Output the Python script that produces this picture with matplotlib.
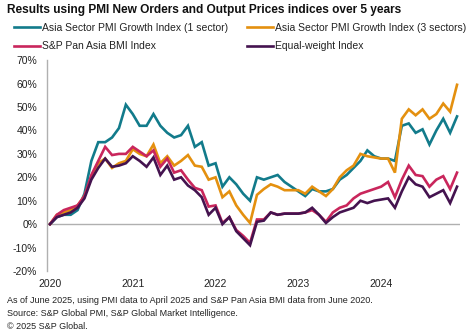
import matplotlib
matplotlib.use("Agg")
import matplotlib.pyplot as plt
from matplotlib.ticker import FuncFormatter

plt.rcParams['font.family'] = ['Liberation Sans', 'DejaVu Sans']

year_labels = ["2020", "2021", "2022", "2023", "2024"]

teal_1sector = [0, 3, 4, 4, 6, 13, 27, 35, 35, 37,
                41, 51, 47, 42, 42, 47, 42, 39, 37, 38,
                42, 33, 35, 25, 26, 16, 20, 17, 13, 10,
                20, 19, 20, 21, 18, 16, 14, 12, 15, 14,
                14, 15, 19, 21, 24, 27, 31.5, 29, 28, 28,
                27, 42, 43, 39, 40.5, 34, 40, 45, 39, 46]
orange_3sectors = [0, 4, 5, 6, 8, 12, 20, 26, 28, 24,
                   26, 27, 32, 30, 29, 34, 26, 29, 25, 27,
                   29.5, 25, 24.5, 19, 20, 11.5, 14, 8, 4, 0.5,
                   12.5, 15, 17, 16, 14.5, 14.5, 14.5, 13, 16, 14,
                   12, 15, 20, 23, 25, 30, 29, 28.5, 28, 28,
                   22, 45, 49, 46.5, 49, 45, 47, 51.5, 48, 59.5]
pink_bmi = [0, 4, 6, 7, 8, 12, 21, 27, 33, 29.5,
            30, 30, 33, 31, 29, 31.5, 24.5, 28, 22, 23,
            19, 15.5, 14.5, 7.5, 8, 0.5, 3, -2.5, -5, -8,
            2, 2, 5, 4, 4.5, 4.5, 4.5, 5, 6, 4,
            1, 5, 7, 8, 11, 13, 14, 15, 16, 18,
            11.5, 19, 25, 21, 20.5, 16, 19, 20.5, 15, 22]
purple_equal = [0, 3, 4, 5, 7, 11, 19, 24, 28, 24.5,
                25, 26, 29, 27, 24.5, 28.5, 21, 25, 19, 20,
                16.5, 14.5, 11.5, 4, 7, 0, 3, -3, -6, -9,
                1, 1.5, 5, 4, 4.5, 4.5, 4.5, 5, 7, 4,
                0.5, 3, 5, 6, 7, 10, 9, 10, 10.5, 11,
                7, 14, 20, 17, 16, 11.5, 13, 14.5, 9, 16]

series = [
    ("Asia Sector PMI Growth Index (1 sector)", teal_1sector, '#127b8b'),
    ("Asia Sector PMI Growth Index (3 sectors)", orange_3sectors, '#e4900f'),
    ("S&P Pan Asia BMI Index", pink_bmi, '#c9265c'),
    ("Equal-weight Index", purple_equal, '#44134f'),
]

W, H = 472, 333
fig = plt.figure(figsize=(W / 100, H / 100), dpi=100)
ax = fig.add_axes([47 / W, 1 - 271 / H, (460 - 47) / W, (271 - 60.2) / H])

handles = []
for name, vals, col in series:
    ln, = ax.plot(range(len(vals)), vals, color=col, lw=1.9, label=name,
                  solid_joinstyle='miter')
    handles.append(ln)

ax.set_xlim(-0.43, 59.43)
ax.set_ylim(-20, 70)
ax.set_yticks(range(-20, 71, 10))
ax.yaxis.set_major_formatter(FuncFormatter(lambda v, p: f"{int(v)}%"))
ax.set_xticks([0, 12, 24, 36, 48])
ax.set_xticklabels(year_labels)
ax.axhline(0, color='#b0b0b0', lw=1.0, zorder=0)
for s in ['top', 'right', 'bottom']:
    ax.spines[s].set_visible(False)
ax.spines['left'].set_color('#b0b0b0')
ax.spines['left'].set_linewidth(1.0)
ax.tick_params(axis='y', length=0, pad=7, labelsize=7.5, labelcolor='#222222')
ax.tick_params(axis='x', length=0, pad=6, labelsize=7.5, labelcolor='#222222')

fig.text(7 / W, 1 - 9.5 / H, "Results using PMI New Orders and Output Prices indices over 5 years",
         fontsize=8.6, fontweight='bold', va='center', ha='left', color='#111111')

order = [0, 2, 1, 3]
fig.legend(handles=[handles[i] for i in order], loc='upper left',
           bbox_to_anchor=(14 / W, 1 - 23 / H),
           ncol=2, frameon=False, fontsize=7.5, handlelength=2.5, handletextpad=0.2,
           columnspacing=1.8, labelspacing=0.8, borderaxespad=0, borderpad=0,
           labelcolor='#222222')

notes = ["As of June 2025, using PMI data to April 2025 and S&P Pan Asia BMI data from June 2020.",
         "Source: S&P Global PMI, S&P Global Market Intelligence.",
         "\u00a9 2025 S&P Global."]
for i, t in enumerate(notes):
    fig.text(7 / W, 1 - (300.5 + i * 12.8) / H, t, fontsize=6.45, va='center', ha='left',
             color='#222222')

fig.savefig("out.png", dpi=100)
